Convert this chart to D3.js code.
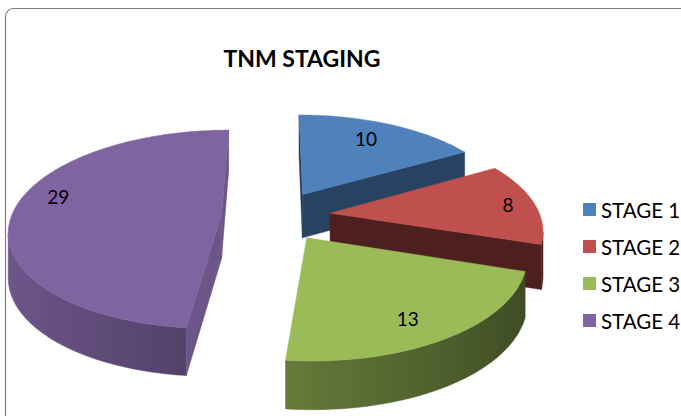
<!DOCTYPE html>
<html>
<head>
<meta charset="utf-8">
<script src="https://cdn.jsdelivr.net/npm/d3@7"></script>
<style>
  body { margin: 0; background: #fff; }
  text { font-family: Lato, "Open Sans", sans-serif; fill: #000; }
</style>
</head>
<body>
<div id="chart"></div>
<script>
// data
var categories = ["STAGE 1", "STAGE 2", "STAGE 3", "STAGE 4"];
var values = [10, 8, 13, 29];
var colors = ["#4F81BD", "#C0504D", "#9BBB59", "#8064A2"];

// label placement inside each slice (fraction of radius, angle nudge in degrees)
var labelRadius = [0.76, 0.87, 0.8, 0.83];
var labelNudge = [-2, 0, 3, 10];

var width = 681, height = 416;

// 3d view settings
var view = { cx: 276, cy: 215.8, k: 210, A: 97.4, b: 0.15, T0: 44, bt: 0.08 };
var explode = 0.26;

var svg = d3.select("#chart").append("svg")
    .attr("width", width)
    .attr("height", height);

var defs = svg.append("defs");

// outer frame
svg.append("rect")
    .attr("x", 5.5).attr("y", 8.5)
    .attr("width", 720).attr("height", 440)
    .attr("rx", 8).attr("ry", 8)
    .attr("fill", "none")
    .attr("stroke", "#7f7f7f")
    .attr("stroke-width", 1.2);

svg.append("text")
    .attr("x", 302)
    .attr("y", 67)
    .attr("text-anchor", "middle")
    .style("font-size", "23px")
    .style("font-weight", "bold")
    .text("TNM STAGING");

// scales from normalised pie coords to screen
var xs = d3.scaleLinear().domain([-1, 1]).range([view.cx - view.k, view.cx + view.k]);
var ys = d3.scaleLinear().domain([-1, 1]).range([view.cy - view.A, view.cy + view.A]);

function proj(X, Y, z) {
    var dr = 1 - view.b * Y;
    return [xs(X / dr), ys(Y / dr) + z * view.T0 / (1 - view.bt * Y)];
}

function shade(hex, f) {
    var c = d3.rgb(hex);
    return d3.rgb(c.r * f, c.g * f, c.b * f).formatHex();
}

function area(pts) {
    var s = 0;
    for (var i = 0; i < pts.length; i++) {
        var p = pts[i], q = pts[(i + 1) % pts.length];
        s += p[0] * q[1] - q[0] * p[1];
    }
    return s / 2;
}

function poly(pts) {
    return "M" + pts.map(function(p) { return p[0].toFixed(2) + "," + p[1].toFixed(2); }).join("L") + "Z";
}

var pie = d3.pie().sort(null).startAngle(0).endAngle(2 * Math.PI);
var arcs = pie(values).map(function(d, i) {
    var mid = (d.startAngle + d.endAngle) / 2;
    d.i = i;
    d.ox = explode * Math.sin(mid);
    d.oy = -explode * Math.cos(mid);
    d.mid = mid;
    return d;
});

function rim(d, t, z) {
    return proj(d.ox + Math.sin(t), d.oy - Math.cos(t), z);
}

// back to front
var order = arcs.slice().sort(function(a, b) { return a.oy - b.oy; });

order.forEach(function(d) {
    var g = svg.append("g").attr("class", "slice");
    var base = colors[d.i];
    var steps = Math.max(8, Math.ceil((d.endAngle - d.startAngle) / 0.02));
    var dt = (d.endAngle - d.startAngle) / steps;

    // outer wall: find runs of front-facing samples
    var ts = d3.range(steps + 1).map(function(s) { return d.startAngle + s * dt; });
    var runs = [], cur = null;
    for (var s = 0; s < steps; s++) {
        var vis = rim(d, ts[s + 1], 0)[0] < rim(d, ts[s], 0)[0];
        if (vis) {
            if (!cur) { cur = [ts[s]]; runs.push(cur); }
            cur.push(ts[s + 1]);
        } else {
            cur = null;
        }
    }
    runs.forEach(function(run, ri) {
        var topPts = run.map(function(t) { return rim(d, t, 0); });
        var botPts = run.map(function(t) { return rim(d, t, 1); }).reverse();
        var xExt = d3.extent(topPts, function(p) { return p[0]; });
        var id = "wall-" + d.i + "-" + ri;
        var grad = defs.append("linearGradient")
            .attr("id", id)
            .attr("gradientUnits", "userSpaceOnUse")
            .attr("x1", xExt[0]).attr("x2", xExt[1])
            .attr("y1", 0).attr("y2", 0);
        var stops = run.map(function(t, j) {
            return { off: (topPts[j][0] - xExt[0]) / Math.max(1e-6, xExt[1] - xExt[0]),
                     col: shade(base, 0.63 - 0.24 * Math.sin(t)) };
        }).sort(function(a, b) { return a.off - b.off; });
        grad.selectAll("stop")
            .data(stops)
            .enter()
            .append("stop")
            .attr("offset", function(o) { return o.off; })
            .attr("stop-color", function(o) { return o.col; });
        g.append("path")
            .attr("d", poly(topPts.concat(botPts)))
            .attr("fill", "url(#" + id + ")")
            .attr("stroke", "url(#" + id + ")")
            .attr("stroke-width", 0.5);
    });

    // radial cut faces
    var aTop = proj(d.ox, d.oy, 0), aBot = proj(d.ox, d.oy, 1);
    [[d.startAngle, -1], [d.endAngle, 1]].forEach(function(e) {
        var pts = [aTop, rim(d, e[0], 0), rim(d, e[0], 1), aBot];
        if (area(pts) * e[1] <= 0) return;
        var nrm = e[0] + e[1] * Math.PI / 2;
        var c = Math.max(0, Math.cos(nrm - Math.PI / 2));
        var col = shade(base, 0.4 + 0.45 * c * c);
        g.append("path")
            .attr("d", poly(pts))
            .attr("fill", col)
            .attr("stroke", col)
            .attr("stroke-width", 0.5);
    });

    // top face
    var top = [aTop].concat(ts.map(function(t) { return rim(d, t, 0); }));
    g.append("path")
        .attr("d", poly(top))
        .attr("fill", base)
        .attr("stroke", base)
        .attr("stroke-width", 0.5);
});

// data labels
function labelPos(d) {
    var t = d.mid + labelNudge[d.i] * Math.PI / 180;
    var r = labelRadius[d.i];
    return proj(d.ox + r * Math.sin(t), d.oy - r * Math.cos(t), 0);
}

svg.selectAll(".label")
    .data(arcs)
    .enter()
    .append("text")
    .attr("class", "label")
    .attr("text-anchor", "middle")
    .attr("dominant-baseline", "central")
    .style("font-size", "19px")
    .attr("x", function(d) { return labelPos(d)[0]; })
    .attr("y", function(d) { return labelPos(d)[1]; })
    .text(function(d) { return d.data; });

// legend
var legend = svg.append("g").attr("class", "legend");
legend.selectAll("rect")
    .data(categories)
    .enter()
    .append("rect")
    .attr("x", 583)
    .attr("y", function(d, i) { return 203 + i * 37; })
    .attr("width", 13)
    .attr("height", 13)
    .attr("fill", function(d, i) { return colors[i]; });

legend.selectAll("text")
    .data(categories)
    .enter()
    .append("text")
    .attr("x", 601)
    .attr("y", function(d, i) { return 209.5 + i * 37; })
    .attr("dominant-baseline", "central")
    .style("font-size", "20.5px")
    .text(function(d) { return d; });
</script>
</body>
</html>
